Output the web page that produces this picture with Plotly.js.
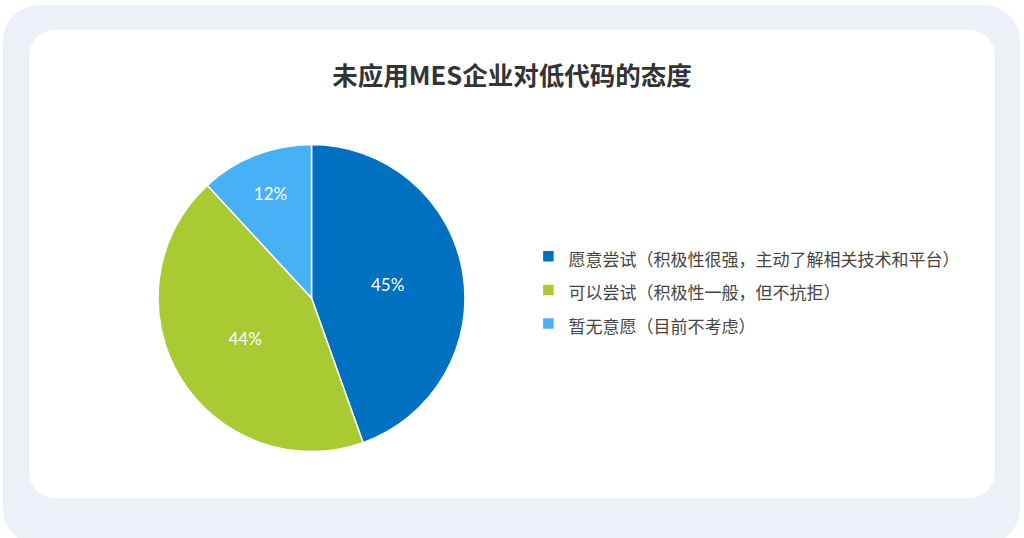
<!DOCTYPE html>
<html>
<head>
<meta charset="utf-8">
<script src="https://cdn.plot.ly/plotly-3.0.1.min.js"></script>
<style>
  html, body { margin: 0; padding: 0; background: #ffffff; }
  #frame {
    position: absolute; left: 3px; top: 5px; width: 1017px; height: 540px;
    background: #edf1f7; border-radius: 36px;
  }
  #card {
    position: absolute; left: 29px; top: 30px; width: 966px; height: 468px;
    background: #ffffff; border-radius: 26px;
  }
  #chart { position: absolute; left: 0; top: 0; width: 1024px; height: 538px; }
</style>
</head>
<body>
<div id="frame"></div>
<div id="card"></div>
<div id="chart"></div>
<script>
// attitude of companies not yet using MES towards low-code
const categories = [
  '愿意尝试（积极性很强，主动了解相关技术和平台）',
  '可以尝试（积极性一般，但不抗拒）',
  '暂无意愿（目前不考虑）'
]
const shares = [45, 44, 12]
const sliceColors = ['#0070c0', '#a9ca32', '#48b1f6']

// the legend row height follows legend.font.size, the text itself is drawn smaller
const legendLabels = categories.map(c => '<span style="font-size:17px">' + c + '</span>')

const data = [{
  type: 'pie',
  labels: legendLabels,
  values: shares,
  sort: false,
  direction: 'clockwise',
  rotation: 0,
  marker: { colors: sliceColors, line: { color: '#ffffff', width: 1.5 } },
  textinfo: 'text',
  texttemplate: '%{value}%',
  textposition: 'inside',
  insidetextorientation: 'horizontal',
  textfont: { family: 'Lato, "Noto Sans", sans-serif', size: 17, color: '#ffffff' },
  domain: { x: [0.1543, 0.4541], y: [0.1608, 0.7314] },
  hoverinfo: 'none'
}]

const layout = {
  width: 1024,
  height: 538,
  margin: { l: 0, r: 0, t: 0, b: 0 },
  paper_bgcolor: 'rgba(0,0,0,0)',
  plot_bgcolor: 'rgba(0,0,0,0)',
  title: {
    text: '<b>未应用MES企业对低代码的态度</b>',
    x: 0.5, xanchor: 'center',
    y: 0.858, yanchor: 'middle',
    font: { family: '"Noto Sans CJK SC", sans-serif', size: 25.5, color: '#333333' }
  },
  showlegend: true,
  legend: {
    x: 0.516, xanchor: 'left',
    y: 0.564, yanchor: 'top',
    font: { family: '"Noto Sans CJK SC", sans-serif', size: 23.5, color: '#444444' },
    bgcolor: 'rgba(0,0,0,0)'
  }
}

Plotly.newPlot('chart', data, layout, { displayModeBar: false, staticPlot: true })
</script>
</body>
</html>
